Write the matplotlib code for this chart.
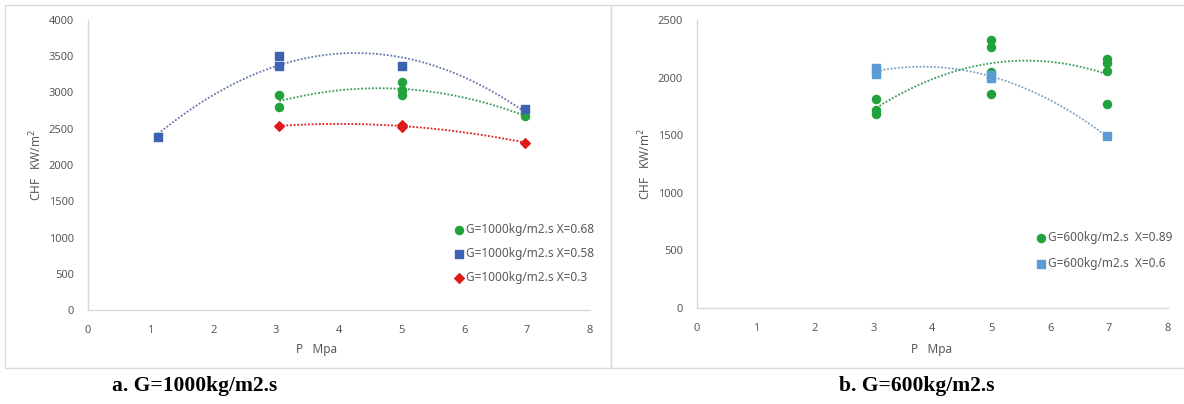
import numpy as np
import matplotlib
matplotlib.use("Agg")
import matplotlib.pyplot as plt
from matplotlib.patches import Rectangle

# ---------------- data (panel a: G=1000) ----------------
a_x068 = [3.05, 3.05, 5.0, 5.0, 5.0, 6.96]
a_y068 = [2965, 2795, 3150, 3040, 2960, 2680]
a_x058 = [1.12, 3.05, 3.05, 5.0, 6.96]
a_y058 = [2390, 3500, 3370, 3370, 2770]
a_x03 = [3.05, 5.0, 5.0, 6.96]
a_y03 = [2540, 2545, 2530, 2310]
a_labels = ["G=1000kg/m2.s X=0.68", "G=1000kg/m2.s X=0.58", "G=1000kg/m2.s X=0.3"]

# ---------------- data (panel b: G=600) ----------------
b_x089 = [3.05, 3.05, 3.05, 5.0, 5.0, 5.0, 5.0, 6.96, 6.96, 6.96, 6.96]
b_y089 = [1815, 1715, 1685, 2330, 2265, 2045, 1860, 2160, 2130, 2055, 1775]
b_x06 = [3.05, 3.05, 5.0, 5.0, 6.96]
b_y06 = [2085, 2030, 2025, 1995, 1490]
b_labels = ["G=600kg/m2.s  X=0.89", "G=600kg/m2.s  X=0.6"]

a_yticks = [0, 500, 1000, 1500, 2000, 2500, 3000, 3500, 4000]
b_yticks = [0, 500, 1000, 1500, 2000, 2500]
xticks = [0, 1, 2, 3, 4, 5, 6, 7, 8]

GREEN = "#22a23c"
BLUE_A = "#3c63b3"
RED = "#e0191b"
BLUE_B = "#5b9bd5"
GRID = "#d9d9d9"
TXT = "#595959"

plt.rcParams["font.family"] = ["Noto Sans", "DejaVu Sans"]

fig = plt.figure(figsize=(11.84, 4.04), dpi=100)
W, H = 1184, 404

def fx(px):
    return px / W

def fy(py):
    return 1 - py / H

# panel borders
fig.patches.append(Rectangle((fx(5), fy(368)), fx(611) - fx(5), fy(5) - fy(368),
                             transform=fig.transFigure, fill=False, ec=GRID, lw=1.0))
fig.patches.append(Rectangle((fx(611), fy(368)), fx(1190) - fx(611), fy(5) - fy(368),
                             transform=fig.transFigure, fill=False, ec=GRID, lw=1.0))

ax1 = fig.add_axes([fx(87.7), fy(310), fx(590) - fx(87.7), fy(20) - fy(310)])
ax2 = fig.add_axes([fx(696.8), fy(308), fx(1168) - fx(696.8), fy(20) - fy(308)])


def trend(ax, xs, ys, color):
    c = np.polyfit(xs, ys, 2)
    xx = np.linspace(min(xs), max(xs), 200)
    ax.plot(xx, np.polyval(c, xx), linestyle=(0, (1, 1)), color=color, lw=1.3, zorder=2)


def style(ax, yticks, ylab_x, xlab_x, xlab_y):
    ax.set_xlim(0, 8)
    ax.set_ylim(0, yticks[-1])
    ax.set_xticks(xticks)
    ax.set_yticks(yticks)
    for s in ["top", "right"]:
        ax.spines[s].set_visible(False)
    for s in ["left", "bottom"]:
        ax.spines[s].set_color(GRID)
        ax.spines[s].set_linewidth(1.0)
    ax.tick_params(length=0, labelsize=8, colors=TXT, pad=10)
    ax.tick_params(axis="x", pad=11)
    ax.set_ylabel("CHF   KW/m$^2$", fontsize=8.5, color=TXT)
    ax.yaxis.set_label_coords(ylab_x, 0.5)
    ax.set_xlabel("P   Mpa", fontsize=8.5, color=TXT)
    ax.xaxis.set_label_coords(xlab_x, xlab_y)


MS = 34

# panel a
trend(ax1, a_x058, a_y058, "#6677aa")
trend(ax1, a_x068, a_y068, "#3a9a5a")
trend(ax1, a_x03, a_y03, RED)
h1 = ax1.scatter(a_x068, a_y068, marker="o", s=MS, color=GREEN, zorder=3, label=a_labels[0])
h2 = ax1.scatter(a_x058, a_y058, marker="s", s=MS, color=BLUE_A, zorder=3, label=a_labels[1])
h3 = ax1.scatter(a_x03, a_y03, marker="D", s=24, color=RED, zorder=3, label=a_labels[2])
style(ax1, a_yticks, -0.087, 0.4565, -0.114)
leg1 = ax1.legend(handles=[h1, h2, h3], loc="upper left", bbox_to_anchor=(0.72, 0.317),
                  frameon=False, fontsize=8.5, handletextpad=0.15, labelspacing=0.95,
                  handlelength=0.9, borderaxespad=0, labelcolor=TXT, markerscale=1.0)

# panel b
trend(ax2, b_x06, b_y06, "#7aa0c8")
trend(ax2, b_x089, b_y089, "#3a9a5a")
g1 = ax2.scatter(b_x089, b_y089, marker="o", s=MS, color=GREEN, zorder=3, label=b_labels[0])
g2 = ax2.scatter(b_x06, b_y06, marker="s", s=MS, color=BLUE_B, zorder=3, label=b_labels[1])
style(ax2, b_yticks, -0.093, 0.499, -0.122)
leg2 = ax2.legend(handles=[g1, g2], loc="upper left", bbox_to_anchor=(0.71, 0.283),
                  frameon=False, fontsize=8.5, handletextpad=0.15, labelspacing=1.05,
                  handlelength=0.9, borderaxespad=0, labelcolor=TXT, markerscale=1.0)

# captions
fig.text(fx(195), fy(386), "a. G=1000kg/m2.s", ha="center", va="center",
         fontsize=15.5, fontweight="bold", family=["Liberation Serif", "DejaVu Serif"])
fig.text(fx(917), fy(386), "b. G=600kg/m2.s", ha="center", va="center",
         fontsize=15.5, fontweight="bold", family=["Liberation Serif", "DejaVu Serif"])

fig.savefig("out.png", dpi=100)
